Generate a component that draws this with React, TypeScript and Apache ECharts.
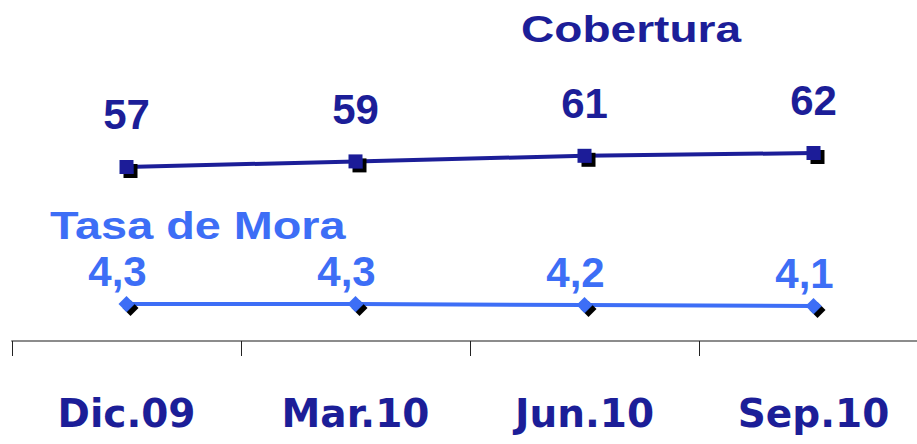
import React, { useEffect, useRef } from "react";
import * as echarts from "echarts";

const categories = ["Dic.09", "Mar.10", "Jun.10", "Sep.10"];
const cobertura = [57, 59, 61, 62];
const tasaMora = [4.3, 4.3, 4.2, 4.1];
const seriesNames = ["Cobertura", "Tasa de Mora"];

const NAVY = "#1c1e98";
const BLUE = "#3d6ef6";

export default function App() {
  const ref = useRef<HTMLDivElement>(null);
  useEffect(() => {
    if (!ref.current) return;
    const chart = echarts.init(ref.current, undefined, { renderer: "svg" });
    chart.setOption({
      animation: false,
      backgroundColor: "#ffffff",
      grid: { left: 12, right: -11, top: 0, bottom: 103, containLabel: false, outerBoundsMode: "none" },
      graphic: [
        {
          type: "text",
          x: 521,
          y: 30,
          scaleX: 1.28,
          style: {
            text: seriesNames[0],
            fill: NAVY,
            font: "bold 36px 'Liberation Sans', Arial, sans-serif",
            textAlign: "left",
            textVerticalAlign: "middle",
          },
        },
        {
          type: "text",
          x: 50,
          y: 225,
          scaleX: 1.2,
          style: {
            text: seriesNames[1],
            fill: BLUE,
            font: "bold 39px 'Liberation Sans', Arial, sans-serif",
            textAlign: "left",
            textVerticalAlign: "middle",
          },
        },
      ],
      xAxis: {
        type: "category",
        data: categories,
        boundaryGap: true,
        axisLine: { show: true, onZero: false, lineStyle: { color: "#8c8c8c", width: 2 } },
        axisTick: { show: true, length: 15, lineStyle: { color: "#222222", width: 1 } },
        axisLabel: {
          margin: 53,
          color: NAVY,
          fontFamily: "'DejaVu Sans', sans-serif",
          fontWeight: "bold",
          fontSize: 39,
        },
        splitLine: { show: false },
      },
      yAxis: [
        { type: "value", show: false, min: -5.14, max: 116.64, splitLine: { show: false } },
        { type: "value", show: false, min: 0.6, max: 34.7, splitLine: { show: false } },
      ],
      series: [
        {
          name: seriesNames[0],
          type: "line",
          yAxisIndex: 0,
          data: cobertura,
          symbol: "rect",
          symbolSize: 14,
          lineStyle: { color: NAVY, width: 4 },
          itemStyle: { color: NAVY, shadowColor: "#000000", shadowBlur: 0, shadowOffsetX: 4, shadowOffsetY: 4 },
          label: {
            show: true,
            position: "top",
            distance: 24,
            color: NAVY,
            fontFamily: "'Liberation Sans', Arial, sans-serif",
            fontWeight: "bold",
            fontSize: 42,
          },
        },
        {
          name: seriesNames[1],
          type: "line",
          yAxisIndex: 1,
          data: tasaMora,
          symbol: "diamond",
          symbolSize: 16,
          lineStyle: { color: BLUE, width: 4 },
          itemStyle: { color: BLUE, shadowColor: "#000000", shadowBlur: 0, shadowOffsetX: 4, shadowOffsetY: 4 },
          label: {
            show: true,
            position: "top",
            distance: 4,
            offset: [-9, 0],
            color: BLUE,
            fontFamily: "'Liberation Sans', Arial, sans-serif",
            fontWeight: "bold",
            fontSize: 42,
            formatter: (p: any) => String(p.value).replace(".", ","),
          },
        },
      ],
    });
    return () => chart.dispose();
  }, []);
  return <div ref={ref} style={{ width: 917, height: 444, position: "absolute", left: 0, top: 0 }} />;
}
